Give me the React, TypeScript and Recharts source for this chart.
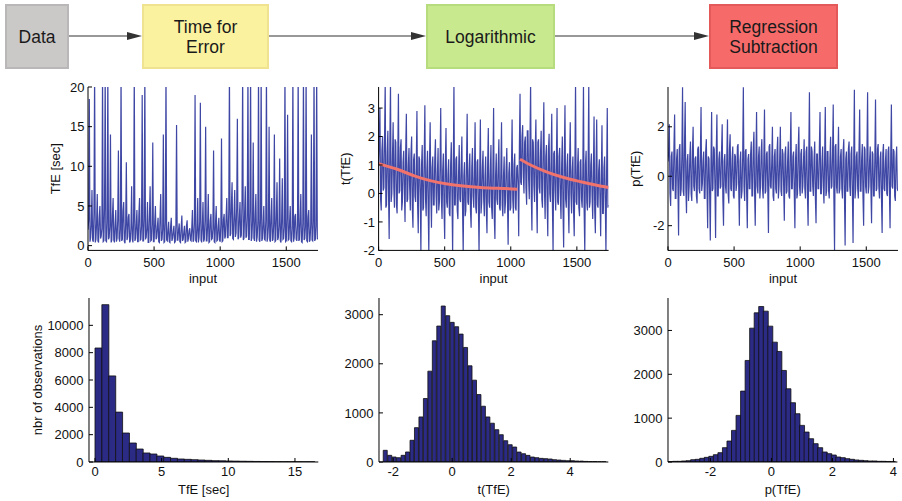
import React from 'react';
import { LineChart, Line, BarChart, Bar, XAxis, YAxis } from 'recharts';

const FONT = '"Liberation Sans", Arial, Helvetica, sans-serif';
const BLUE = '#3f47a5';
const BAR_FILL = '#2b2a85';
const RED = '#f2736b';
const TXT = '#111';

// samples every SAMPLE_STEP inputs; the "mid" arrays are the samples half a step later
const SAMPLE_STEP = 10;
const INPUT_MAX = 1740;

const tfeValues = [
  2.0, 18.5, 1.0, 7.0, 0.5, 22, 0.8, 6.5, 0.4, 5.0,
  1.2, 22, 0.6, 22, 0.5, 22, 1.0, 14.0, 0.7, 6.0,
  0.4, 4.5, 0.9, 12.0, 0.5, 22, 0.8, 5.5, 0.3, 10.5,
  1.1, 4.0, 0.6, 7.5, 0.4, 22, 0.9, 4.5, 0.5, 6.0,
  0.8, 19.0, 0.6, 22, 1.0, 5.5, 0.4, 7.5, 0.7, 13.0,
  0.5, 5.0, 1.0, 3.5, 0.4, 6.5, 0.8, 14.0, 0.5, 22,
  0.6, 3.0, 0.4, 3.5, 0.9, 2.5, 0.5, 15.2, 0.7, 2.8,
  0.4, 3.8, 0.8, 2.5, 0.5, 3.2, 0.9, 2.2, 0.6, 4.5,
  0.7, 19.0, 0.5, 6.0, 1.0, 18.0, 0.4, 5.5, 0.8, 15.0,
  0.6, 6.5, 0.5, 4.0, 0.9, 12.0, 0.4, 5.0, 0.7, 3.5,
  0.5, 13.5, 0.6, 4.0, 1.2, 6.0, 1.0, 22, 1.5, 8.0,
  0.8, 7.0, 1.6, 16.0, 1.0, 5.5, 1.3, 22, 0.9, 7.5,
  1.2, 22, 0.8, 22, 1.0, 13.0, 0.6, 6.5, 1.1, 22,
  0.5, 22, 0.9, 5.0, 0.7, 22, 1.0, 15.0, 0.5, 6.0,
  0.8, 14.0, 0.6, 8.0, 1.0, 11.0, 0.4, 8.5, 0.9, 22,
  0.6, 16.5, 0.8, 5.0, 0.5, 22, 1.0, 4.0, 0.6, 22,
  0.8, 6.5, 0.4, 22, 0.9, 22, 0.5, 4.5, 0.7, 14.0,
  0.6, 22, 0.8, 22, 1.0,
];
const tfeMid = [
  3.2, 0.5, 2.6, 0.7, 4.1, 0.4, 2.9, 0.6, 3.5, 0.9,
  2.2, 0.5, 4.8, 0.6, 3.0, 0.8, 2.4, 0.4, 3.8, 0.7,
  2.7, 0.5, 3.3, 0.9, 2.1, 0.6, 4.4, 0.5, 2.8, 0.7,
  3.6, 0.4, 2.3, 0.8, 3.1, 0.6, 2.6, 0.5, 4.0, 0.7,
  2.5, 0.6, 3.4, 0.9, 2.2, 0.4, 3.9, 0.6, 2.7, 0.5,
  3.0, 0.8, 2.4, 0.5, 3.5, 0.6, 2.1, 0.4, 2.9, 0.7,
  1.9, 0.5, 2.4, 0.6, 1.8, 0.4, 2.6, 0.7, 2.0, 0.5,
  2.3, 0.6, 1.7, 0.4, 2.5, 0.5, 1.9, 0.7, 2.2, 0.5,
  2.8, 0.6, 2.1, 0.4, 3.0, 0.7, 2.4, 0.5, 3.2, 0.6,
  2.6, 0.4, 3.1, 0.8, 2.2, 0.5, 2.9, 0.6, 2.4, 0.7,
  2.7, 0.5, 3.3, 0.9, 3.6, 1.0, 4.5, 1.2, 5.2, 0.9,
  4.0, 1.1, 4.8, 0.8, 3.7, 1.0, 5.5, 0.7, 4.2, 1.0,
  3.6, 0.8, 4.4, 0.6, 3.2, 0.9, 3.8, 0.5, 2.9, 0.7,
  3.4, 0.6, 2.7, 0.8, 3.1, 0.5, 2.5, 0.7, 3.6, 0.6,
  2.8, 0.5, 3.9, 0.7, 2.6, 0.6, 3.3, 0.8, 2.4, 0.5,
  3.5, 0.7, 2.9, 0.6, 2.3, 0.5, 3.7, 0.8, 2.6, 0.6,
  3.2, 0.5, 2.8, 0.7, 2.4, 0.6, 3.6, 0.5, 2.7, 0.7,
  3.0, 0.6, 2.5, 0.8,
];

const logValues = [
  1.0, 3.0, -0.6, 2.0, 0.2, 3.9, -0.4, 2.2, -1.6, 3.9,
  0.0, 2.5, -0.5, 1.8, -0.7, 3.5, 0.1, 1.9, -0.3, 1.5,
  -1.0, 2.8, -0.2, 1.6, -0.6, 2.0, -1.2, 1.4, -0.3, 2.9,
  -1.4, 1.2, -2.1, 1.7, -0.5, 3.1, -0.8, 1.5, -2.1, 2.5,
  -1.2, 1.3, -0.4, 1.9, -0.7, 1.6, -0.3, 3.0, -0.9, 1.4,
  -1.6, 2.3, -0.5, 1.2, -0.8, 1.8, -2.1, 3.9, -0.4, 1.3,
  -0.9, 1.7, -0.3, 2.0, -2.1, 1.1, -0.6, 2.8, -0.4, 1.4,
  -1.2, 1.6, -0.5, 2.5, -0.7, 1.2, -2.1, 2.6, -0.3, 1.5,
  -0.8, 1.3, -1.4, 2.3, -0.5, 1.7, -0.9, 3.0, -1.6, 1.4,
  -0.4, 1.9, -0.6, 2.5, -0.8, 1.3, -0.3, 1.6, -1.8, 1.1,
  -0.5, 2.6, -0.7, 1.4, -0.6, 1.0, -1.5, 3.5, 0.3, 2.4,
  0.0, 2.0, -0.4, 2.2, -0.2, 3.9, -1.3, 1.8, -0.3, 2.6,
  -1.4, 1.9, 0.0, 2.2, -0.5, 3.2, -0.9, 1.7, -1.5, 2.1,
  -0.3, 2.8, -2.1, 1.5, -0.6, 3.0, -0.4, 1.6, -0.9, 2.0,
  -1.9, 3.1, -0.5, 1.4, -1.4, 2.5, -0.7, 1.3, -1.5, 3.9,
  -0.4, 1.6, -0.8, 1.2, -0.5, 3.9, -2.1, 1.5, -0.6, 3.9,
  -0.3, 1.4, -0.9, 2.7, -1.4, 2.6, -0.5, 1.2, -1.5, 2.4,
  -0.7, 1.3, -2.1, 3.0, -0.4,
];
const logMid = [
  1.8, -0.2, 1.5, 0.1, 2.0, -0.5, 1.4, 0.0, 1.7, -0.3,
  1.3, 0.2, 1.9, -0.4, 1.2, 0.0, 1.6, -0.6, 1.1, 0.1,
  1.5, -0.3, 1.0, 0.2, 1.4, -0.5, 1.2, -0.1, 0.9, -0.4,
  1.3, 0.0, 1.0, -0.6, 1.2, -0.2, 0.8, -0.5, 1.1, 0.1,
  0.9, -0.4, 1.2, -0.1, 0.7, -0.6, 1.0, -0.2, 0.8, -0.5,
  1.1, -0.3, 0.7, -0.7, 1.0, 0.0, 0.8, -0.4, 1.2, -0.6,
  0.7, -0.2, 0.9, -0.5, 0.6, -0.8, 1.0, -0.3, 0.8, -0.6,
  0.9, -0.1, 0.6, -0.5, 1.1, -0.4, 0.7, -0.7, 0.9, -0.2,
  0.6, -0.6, 1.0, -0.3, 0.7, -0.5, 0.9, -0.8, 0.6, -0.2,
  1.0, -0.5, 0.8, -0.4, 0.6, -0.7, 0.9, -0.3, 0.7, -0.6,
  0.8, -0.2, 1.0, -0.5, 0.9, 0.3, 1.6, 0.4, 2.0, 0.6,
  1.8, 0.2, 2.2, 0.5, 1.7, 0.0, 1.9, 0.3, 1.5, -0.1,
  1.8, 0.2, 1.4, -0.2, 1.6, 0.1, 1.3, -0.3, 1.5, 0.0,
  1.2, -0.4, 1.4, 0.1, 1.1, -0.3, 1.3, -0.1, 1.0, -0.5,
  1.2, -0.2, 0.9, -0.4, 1.1, 0.0, 0.8, -0.6, 1.0, -0.3,
  0.9, -0.5, 1.1, -0.2, 0.7, -0.6, 1.0, -0.3, 0.8, -0.5,
  1.0, -0.1, 0.7, -0.6, 0.9, -0.4, 0.8, -0.2, 0.6, -0.7,
  0.9, -0.3, 0.7, -0.5,
];

const regValues = [
  0.6, 2.1, -1.2, 1.0, -0.6, 2.5, -0.9, 1.1, -2.4, 1.3,
  -0.5, 3.6, -0.8, 3.0, -1.5, 0.9, -0.4, 1.4, -1.0, 2.0,
  -0.6, 0.8, -1.1, 1.2, -0.7, 2.8, -0.3, 1.0, -0.9, 1.5,
  -2.1, 0.7, -2.6, 2.6, -0.5, 1.1, -2.5, 2.5, -0.8, 1.0,
  -0.4, 2.1, -2.0, 0.9, -0.7, 2.3, -1.1, 1.7, -0.6, 1.2,
  -0.9, 0.8, -0.3, 1.3, -2.0, 1.0, -0.6, 3.6, -1.0, 1.1,
  -2.1, 0.9, -0.5, 1.4, -0.8, 1.8, -2.0, 2.6, -0.7, 1.2,
  -0.4, 1.5, -0.9, 2.7, -0.6, 1.0, -2.3, 1.3, -0.5, 2.0,
  -1.0, 1.1, -0.7, 1.6, -0.4, 2.0, -0.8, 0.9, -1.8, 1.2,
  -0.6, 1.4, -0.9, 2.6, -0.5, 1.0, -2.1, 1.3, -0.7, 2.0,
  -0.8, 1.1, -0.4, 1.5, -0.9, 1.2, -2.0, 3.4, -0.6, 1.0,
  -0.8, 1.4, -1.9, 0.9, -0.5, 2.6, -0.7, 1.2, -1.1, 2.8,
  -0.6, 1.0, -0.9, 1.6, -0.4, 2.9, -3.0, 1.3, -0.7, 2.0,
  -0.5, 1.1, -0.9, 1.5, -2.8, 1.0, -0.6, 1.4, -0.8, 1.2,
  -2.7, 3.5, -0.5, 1.0, -0.9, 2.7, -0.6, 1.3, -2.0, 1.1,
  -0.7, 3.4, -0.4, 1.2, -1.9, 0.9, -0.8, 3.1, -0.5, 1.3,
  -0.9, 1.0, -2.3, 1.3, -0.6, 1.1, -0.8, 1.2, -2.1, 2.9,
  -0.5, 1.0, -1.0, 1.2, -0.6,
];
const regMid = [
  1.0, -0.7, 0.8, -0.5, 1.2, -0.9, 0.7, -0.4, 1.1, -0.8,
  0.9, -0.6, 1.3, -0.5, 0.6, -1.0, 0.8, -0.7, 1.0, -0.4,
  0.7, -0.8, 1.1, -0.5, 0.9, -0.6, 0.6, -0.9, 1.0, -0.5,
  0.8, -0.7, 0.5, -0.6, 1.2, -0.4, 0.9, -0.8, 0.7, -0.5,
  1.0, -0.9, 0.6, -0.4, 0.8, -0.7, 1.1, -0.5, 0.7, -0.8,
  0.9, -0.6, 1.2, -0.5, 0.6, -0.9, 0.8, -0.4, 1.0, -0.7,
  0.7, -0.5, 0.9, -0.8, 1.1, -0.6, 0.6, -0.4, 0.8, -0.9,
  1.0, -0.5, 0.7, -0.7, 0.9, -0.6, 1.2, -0.4, 0.6, -0.8,
  0.8, -0.5, 1.0, -0.9, 0.7, -0.6, 1.1, -0.4, 0.9, -0.7,
  0.6, -0.8, 1.0, -0.5, 0.8, -0.6, 0.7, -0.9, 1.1, -0.4,
  0.9, -0.7, 0.6, -0.5, 1.0, -0.8, 0.8, -0.6, 1.2, -0.4,
  0.7, -0.9, 0.9, -0.5, 1.1, -0.7, 0.6, -0.4, 0.8, -0.8,
  1.0, -0.6, 0.7, -0.5, 0.9, -0.9, 1.2, -0.4, 0.6, -0.7,
  0.8, -0.5, 1.0, -0.8, 0.7, -0.6, 1.1, -0.4, 0.9, -0.7,
  0.6, -0.9, 0.8, -0.5, 1.0, -0.6, 0.7, -0.8, 1.2, -0.4,
  0.9, -0.7, 0.6, -0.5, 1.0, -0.8, 0.8, -0.6, 1.1, -0.4,
  0.7, -0.9, 0.9, -0.5, 0.6, -0.7, 1.0, -0.6, 0.8, -0.4,
  1.1, -0.8, 0.7, -0.5,
];

// regression curves (red)
const trendAInput = [0, 140, 270, 390, 520, 640, 770, 900, 1050];
const trendAValue = [1.05, 0.85, 0.62, 0.45, 0.33, 0.26, 0.21, 0.18, 0.15];
const trendBInput = [1070, 1150, 1270, 1400, 1530, 1650, 1740];
const trendBValue = [1.2, 1.0, 0.76, 0.56, 0.41, 0.29, 0.21];

// histograms
const tfeHistStart = 0;
const tfeHistWidth = 0.515;
const tfeHistCounts = [
  8341, 11512, 6300, 3650, 2120, 1390, 950, 660, 585, 440,
  340, 270, 220, 195, 170, 145, 122, 100, 90, 75,
  65, 55, 48, 42, 35, 30, 25, 22, 20, 15, 12, 10,
];

const logHistStart = -2.336;
const logHistWidth = 0.1512;
const logHistCounts = [
  238, 136, 102, 88, 136, 204, 442, 700, 918, 1293,
  1850, 2469, 2769, 3177, 2980, 2844, 2755, 2605, 2333, 1959,
  1667, 1374, 1136, 918, 790, 658, 556, 434, 352, 305,
  203, 169, 135, 101, 88, 74, 68, 61, 47, 40,
  33, 27, 27, 20, 18, 12, 10, 8, 6, 5,
];

const regHistStart = -3.39;
const regHistWidth = 0.1487;
const regHistCounts = [
  8, 15, 15, 23, 30, 53, 61, 84, 106, 129,
  167, 213, 327, 478, 721, 1063, 1617, 2316, 3052, 3402,
  3546, 3440, 3098, 2733, 2521, 2088, 1670, 1352, 1101, 835,
  683, 531, 418, 327, 228, 190, 159, 114, 99, 76,
  61, 46, 38, 30, 23, 23, 15, 15, 12, 8,
];

const inputTicks = [0, 500, 1000, 1500];
const tfeTicks = [0, 5, 10, 15, 20];
const logTicks = [-2, -1, 0, 1, 2, 3];
const regTicks = [-2, 0, 2];
const tfeHistXTicks = [0, 5, 10, 15];
const tfeHistYTicks = [0, 2000, 4000, 6000, 8000, 10000];
const logHistXTicks = [-2, 0, 2, 4];
const logHistYTicks = [0, 1000, 2000, 3000];
const regHistXTicks = [-2, 0, 2, 4];
const regHistYTicks = [0, 1000, 2000, 3000];

const interleave = (main: number[], mid: number[]) => {
  const rows: { x: number; v: number }[] = [];
  main.forEach((v, i) => {
    rows.push({ x: i * SAMPLE_STEP, v });
    if (i < mid.length && i * SAMPLE_STEP + SAMPLE_STEP / 2 <= INPUT_MAX) {
      rows.push({ x: i * SAMPLE_STEP + SAMPLE_STEP / 2, v: mid[i] });
    }
  });
  return rows;
};

const logRows = interleave(logValues, logMid).map((r) => {
  const a = trendAInput.indexOf(r.x);
  const b = trendBInput.indexOf(r.x);
  return { ...r, ta: a >= 0 ? trendAValue[a] : null, tb: b >= 0 ? trendBValue[b] : null };
});

const histRows = (start: number, width: number, counts: number[]) =>
  counts.map((c, i) => ({ x: start + width * (i + 0.5), c }));

type Rect = { left: number; top: number; width: number; height: number };

const tickStyle = { fontSize: 13, fill: TXT, fontFamily: FONT };
const labelStyle = { fontSize: 13, fill: TXT, fontFamily: FONT };

function LinePanel(props: {
  rect: Rect; yAxisW: number; data: any[]; xDomain: number[]; xTicks: number[];
  yDomain: number[]; yTicks: number[]; yLabel: string; xLabel: string; trend?: boolean;
}) {
  const { rect, yAxisW, data, xDomain, xTicks, yDomain, yTicks, yLabel, xLabel, trend } = props;
  const mTop = 10, mRight = 12, xH = 55;
  const w = yAxisW + rect.width + mRight;
  const h = mTop + rect.height + xH;
  return (
    <div style={{ position: 'absolute', left: rect.left - yAxisW, top: rect.top - mTop }}>
      <LineChart width={w} height={h} data={data} margin={{ top: mTop, right: mRight, bottom: 0, left: 0 }}>
        <XAxis dataKey="x" type="number" domain={xDomain} ticks={xTicks} allowDataOverflow
          height={xH} tickSize={-4} tickMargin={11} stroke="#000" tick={tickStyle}
          label={{ value: xLabel, position: 'center', style: labelStyle }} />
        <XAxis xAxisId="top" orientation="top" type="number" domain={xDomain} ticks={xTicks}
          allowDataOverflow height={0} tickSize={-4} tick={false} stroke="#000" />
        <YAxis type="number" domain={yDomain} ticks={yTicks} allowDataOverflow width={yAxisW}
          tickSize={-4} tickMargin={7.5} stroke="#000" tick={tickStyle} interval={0}
          label={{ value: yLabel, angle: -90, position: 'center', style: labelStyle }} />
        <YAxis yAxisId="right" orientation="right" type="number" domain={yDomain} ticks={yTicks}
          allowDataOverflow width={0} tickSize={-4} tick={false} stroke="#000" />
        <Line dataKey="v" type="linear" stroke={BLUE} strokeWidth={1.2} dot={false} isAnimationActive={false} />
        {trend && <Line dataKey="ta" type="monotone" stroke={RED} strokeWidth={3} dot={false} connectNulls isAnimationActive={false} />}
        {trend && <Line dataKey="tb" type="monotone" stroke={RED} strokeWidth={3} dot={false} connectNulls isAnimationActive={false} />}
      </LineChart>
    </div>
  );
}

function HistPanel(props: {
  rect: Rect; yAxisW: number; data: any[]; xDomain: number[]; xTicks: number[];
  yDomain: number[]; yTicks: number[]; yLabel?: string; xLabel: string;
}) {
  const { rect, yAxisW, data, xDomain, xTicks, yDomain, yTicks, yLabel, xLabel } = props;
  const mTop = 10, mRight = 12, xH = 55;
  const w = yAxisW + rect.width + mRight;
  const h = mTop + rect.height + xH;
  return (
    <div style={{ position: 'absolute', left: rect.left - yAxisW, top: rect.top - mTop }}>
      <BarChart width={w} height={h} data={data} margin={{ top: mTop, right: mRight, bottom: 0, left: 0 }}
        barCategoryGap={0} barGap={0}>
        <XAxis dataKey="x" type="number" domain={xDomain} ticks={xTicks} allowDataOverflow
          height={xH} tickSize={-4} tickMargin={9} stroke="#000" tick={tickStyle}
          label={{ value: xLabel, position: 'center', style: labelStyle }} />
        <XAxis xAxisId="top" orientation="top" type="number" domain={xDomain} ticks={xTicks}
          allowDataOverflow height={0} tickSize={-4} tick={false} stroke="#000" />
        <YAxis type="number" domain={yDomain} ticks={yTicks} allowDataOverflow width={yAxisW}
          tickSize={-4} tickMargin={9.5} stroke="#000" tick={tickStyle} interval={0}
          label={yLabel ? { value: yLabel, angle: -90, position: 'center', style: labelStyle } : undefined} />
        <YAxis yAxisId="right" orientation="right" type="number" domain={yDomain} ticks={yTicks}
          allowDataOverflow width={0} tickSize={-4} tick={false} stroke="#000" />
        <Bar dataKey="c" fill={BAR_FILL} stroke="#111" strokeWidth={0.8} isAnimationActive={false} />
      </BarChart>
    </div>
  );
}

function FlowBox(props: { x: number; w: number; fill: string; border: string; lines: string[] }) {
  const { x, w, fill, border, lines } = props;
  const y = 5, h = 63;
  const cx = x + w / 2;
  const baselines = lines.length === 1 ? [42.5] : [32.5, 53.3];
  return (
    <g>
      <rect x={x} y={y} width={w} height={h} fill={fill} stroke={border} strokeWidth={2} />
      {lines.map((t, i) => (
        <text key={i} x={cx} y={baselines[i]} textAnchor="middle" fontSize={17.5} fill="#1a1a1a" fontFamily={FONT}>{t}</text>
      ))}
    </g>
  );
}

function Arrow(props: { x1: number; x2: number }) {
  const { x1, x2 } = props;
  const y = 36;
  return (
    <g>
      <line x1={x1} y1={y} x2={x2 - 12} y2={y} stroke="#333" strokeWidth={1.2} />
      <polygon points={`${x2},${y} ${x2 - 15},${y - 4} ${x2 - 15},${y + 4}`} fill="#333" />
    </g>
  );
}

function Flowchart() {
  return (
    <svg width={902} height={80} style={{ position: 'absolute', left: 0, top: 0 }}>
      <Arrow x1={68} x2={142} />
      <Arrow x1={268} x2={426} />
      <Arrow x1={555} x2={709} />
      <FlowBox x={6} w={62} fill="#cbc8c8" border="#b9b7b7" lines={['Data']} />
      <FlowBox x={143} w={125} fill="#fbf2a0" border="#efe290" lines={['Time for', 'Error']} />
      <FlowBox x={427} w={127} fill="#c9e98e" border="#b6dc7e" lines={['Logarithmic']} />
      <FlowBox x={710} w={127} fill="#f66a6a" border="#e45a5a" lines={['Regression', 'Subtraction']} />
    </svg>
  );
}

export default function App() {
  const topH = 163.4;
  const botH = 164;
  return (
    <div style={{ position: 'absolute', left: 0, top: 0, width: 902, height: 501, overflow: 'hidden', background: '#fff', fontFamily: FONT }}>
      <Flowchart />
      <LinePanel rect={{ left: 88.3, top: 87.3, width: 230, height: topH }} yAxisW={65}
        data={interleave(tfeValues, tfeMid)} xDomain={[0, INPUT_MAX]} xTicks={inputTicks}
        yDomain={[-0.6, 20]} yTicks={tfeTicks} yLabel="TfE [sec]" xLabel="input" />
      <LinePanel rect={{ left: 378.3, top: 87.3, width: 230, height: topH }} yAxisW={66.6}
        data={logRows} xDomain={[0, INPUT_MAX]} xTicks={inputTicks}
        yDomain={[-2, 3.74]} yTicks={logTicks} yLabel="t(TfE)" xLabel="input" trend />
      <LinePanel rect={{ left: 668, top: 87.3, width: 230, height: topH }} yAxisW={66}
        data={interleave(regValues, regMid)} xDomain={[0, INPUT_MAX]} xTicks={inputTicks}
        yDomain={[-3, 3.61]} yTicks={regTicks} yLabel="p(TfE)" xLabel="input" />
      <HistPanel rect={{ left: 89, top: 298.3, width: 229.3, height: botH }} yAxisW={104}
        data={histRows(tfeHistStart, tfeHistWidth, tfeHistCounts)} xDomain={[-0.45, 16.75]} xTicks={tfeHistXTicks}
        yDomain={[0, 12000]} yTicks={tfeHistYTicks} yLabel="nbr of observations" xLabel="TfE [sec]" />
      <HistPanel rect={{ left: 379, top: 298.3, width: 229.3, height: botH }} yAxisW={60}
        data={histRows(logHistStart, logHistWidth, logHistCounts)} xDomain={[-2.48, 5.29]} xTicks={logHistXTicks}
        yDomain={[0, 3340]} yTicks={logHistYTicks} xLabel="t(TfE)" />
      <HistPanel rect={{ left: 668.3, top: 298.3, width: 229.4, height: botH }} yAxisW={60}
        data={histRows(regHistStart, regHistWidth, regHistCounts)} xDomain={[-3.39, 4.13]} xTicks={regHistXTicks}
        yDomain={[0, 3740]} yTicks={regHistYTicks} xLabel="p(TfE)" />
    </div>
  );
}
